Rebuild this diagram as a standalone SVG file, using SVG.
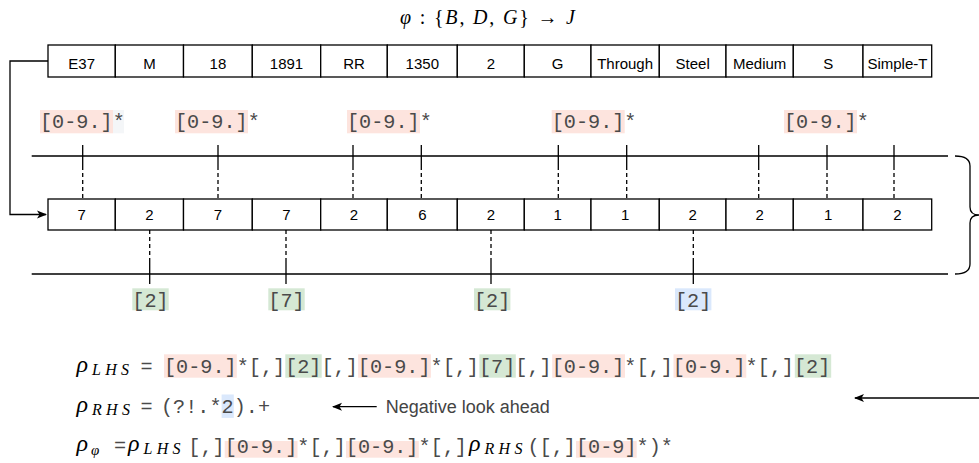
<svg xmlns="http://www.w3.org/2000/svg" width="979" height="463" viewBox="0 0 979 463">
<defs>
<style>
.cell{fill:#fff;stroke:#000;stroke-width:1.3}
.ct{font-family:"Liberation Sans",Arial,sans-serif;font-size:15px;fill:#000;text-anchor:middle}
.mono{font-family:"Liberation Mono","Courier New",monospace;font-size:20.2px;fill:#4a4a4a}
.math{font-family:"Liberation Serif","Times New Roman",serif;font-style:italic;fill:#000}
.up{font-style:normal}
.pink{fill:#fde4de}
.green{fill:#d5e8d4}
.blue{fill:#dae8fc}
.ln{stroke:#000;stroke-width:1.3;fill:none}
.dash{stroke:#000;stroke-width:1.3;stroke-dasharray:4 3;fill:none}
</style>
<marker id="ah" viewBox="0 0 10 10" refX="9" refY="5" markerWidth="10" markerHeight="10" orient="auto" markerUnits="userSpaceOnUse">
<path d="M0,1 L10,5 L0,9 L2.5,5 Z" fill="#000"/>
</marker>
</defs>
<rect width="979" height="463" fill="#fff"/>

<g id="title">
<text class="math" x="400" y="24" font-size="20" textLength="175" lengthAdjust="spacing">φ<tspan class="up"> : {</tspan>B<tspan class="up">, </tspan>D<tspan class="up">, </tspan>G<tspan class="up">} → </tspan>J</text>
</g>

<g id="connectors">
<path class="ln" d="M48,61 H10 V214.5 H46" marker-end="url(#ah)"/>
<path class="ln" d="M31.7,156 H948 M31.7,274 H948"/>
<path class="ln" d="M955,156 Q970,156 970,166 L970,207 Q970,215 979,215 Q970,215 970,223 L970,264 Q970,274 955,274"/>
<g id="top-ticks">
<path class="ln" d="M82.7,145 V166 M218,145 V166 M353,145 V166 M421.3,145 V166 M558.3,145 V166 M626.7,145 V166 M758.7,145 V166 M827,145 V166 M894,145 V166"/>
<path class="dash" d="M82.7,166 V199 M218,166 V199 M353,166 V199 M421.3,166 V199 M558.3,166 V199 M626.7,166 V199 M758.7,166 V199 M827,166 V199 M894,166 V199"/>
</g>
<g id="bottom-ticks">
<path class="dash" d="M149.7,230 V262 M286,230 V262 M491,230 V262 M693.3,230 V262"/>
<path class="ln" d="M149.7,262 V284 M286,262 V284 M491,262 V284 M693.3,262 V284"/>
</g>
<path class="ln" d="M376.7,406.7 H333" marker-end="url(#ah)"/>
<path class="ln" d="M979,398 H855" marker-end="url(#ah)"/>
</g>

<g id="top-row">
<rect class="cell" x="48" y="45" width="67.3" height="32"/><text class="ct" x="81.7" y="68.5">E37</text>
<rect class="cell" x="115.3" y="45" width="68.2" height="32"/><text class="ct" x="149.4" y="68.5">M</text>
<rect class="cell" x="183.5" y="45" width="68.8" height="32"/><text class="ct" x="217.9" y="68.5">18</text>
<rect class="cell" x="252.3" y="45" width="68.4" height="32"/><text class="ct" x="286.5" y="68.5">1891</text>
<rect class="cell" x="320.7" y="45" width="66.6" height="32"/><text class="ct" x="354" y="68.5">RR</text>
<rect class="cell" x="387.3" y="45" width="70" height="32"/><text class="ct" x="422.3" y="68.5">1350</text>
<rect class="cell" x="457.3" y="45" width="67" height="32"/><text class="ct" x="490.8" y="68.5">2</text>
<rect class="cell" x="524.3" y="45" width="66.7" height="32"/><text class="ct" x="557.7" y="68.5">G</text>
<rect class="cell" x="591" y="45" width="68.3" height="32"/><text class="ct" x="625.1" y="68.5">Through</text>
<rect class="cell" x="659.3" y="45" width="66.7" height="32"/><text class="ct" x="692.7" y="68.5">Steel</text>
<rect class="cell" x="726" y="45" width="67.3" height="32"/><text class="ct" x="759.7" y="68.5">Medium</text>
<rect class="cell" x="793.3" y="45" width="69.7" height="32"/><text class="ct" x="828.2" y="68.5">S</text>
<rect class="cell" x="863" y="45" width="68.7" height="32"/><text class="ct" x="897.4" y="68.5">Simple-T</text>
</g>

<g id="bottom-row">
<rect class="cell" x="48" y="199" width="67.3" height="31"/><text class="ct" x="81.7" y="220">7</text>
<rect class="cell" x="115.3" y="199" width="68.2" height="31"/><text class="ct" x="149.4" y="220">2</text>
<rect class="cell" x="183.5" y="199" width="68.8" height="31"/><text class="ct" x="217.9" y="220">7</text>
<rect class="cell" x="252.3" y="199" width="68.4" height="31"/><text class="ct" x="286.5" y="220">7</text>
<rect class="cell" x="320.7" y="199" width="66.6" height="31"/><text class="ct" x="354" y="220">2</text>
<rect class="cell" x="387.3" y="199" width="70" height="31"/><text class="ct" x="422.3" y="220">6</text>
<rect class="cell" x="457.3" y="199" width="67" height="31"/><text class="ct" x="490.8" y="220">2</text>
<rect class="cell" x="524.3" y="199" width="66.7" height="31"/><text class="ct" x="557.7" y="220">1</text>
<rect class="cell" x="591" y="199" width="68.3" height="31"/><text class="ct" x="625.1" y="220">1</text>
<rect class="cell" x="659.3" y="199" width="66.7" height="31"/><text class="ct" x="692.7" y="220">2</text>
<rect class="cell" x="726" y="199" width="67.3" height="31"/><text class="ct" x="759.7" y="220">2</text>
<rect class="cell" x="793.3" y="199" width="69.7" height="31"/><text class="ct" x="828.2" y="220">1</text>
<rect class="cell" x="863" y="199" width="68.7" height="31"/><text class="ct" x="897.4" y="220">2</text>
</g>

<g id="top-labels">
<rect class="pink" x="40" y="110" width="73" height="23.3"/><rect x="113" y="110" width="11" height="23.3" fill="#f4f6f8"/><text class="mono" x="40" y="128">[0-9.]*</text>
<rect class="pink" x="175" y="110" width="73" height="23.3"/><text class="mono" x="175" y="128">[0-9.]*</text>
<rect class="pink" x="347" y="110" width="73" height="23.3"/><text class="mono" x="347" y="128">[0-9.]*</text>
<rect class="pink" x="551.7" y="110" width="73" height="23.3"/><text class="mono" x="551.7" y="128">[0-9.]*</text>
<rect class="pink" x="784" y="110" width="73" height="23.3"/><text class="mono" x="784" y="128">[0-9.]*</text>
</g>

<g id="bottom-labels">
<rect class="green" x="132.3" y="288.3" width="36.4" height="22"/><text class="mono" x="132.3" y="306.5">[2]</text>
<rect class="green" x="268.3" y="288.3" width="36.4" height="22"/><text class="mono" x="268.3" y="306.5">[7]</text>
<rect class="green" x="474" y="288.3" width="36.4" height="22"/><text class="mono" x="474" y="306.5">[2]</text>
<rect class="blue" x="675" y="288.3" width="36.4" height="22"/><text class="mono" x="675" y="306.5">[2]</text>
</g>

<g id="rho-lhs">
<rect class="pink" x="164" y="354.3" width="72.8" height="23.4"/>
<rect class="green" x="285.3" y="354.3" width="36.4" height="23.4"/>
<rect class="pink" x="358.1" y="354.3" width="72.8" height="23.4"/>
<rect class="green" x="479.4" y="354.3" width="36.4" height="23.4"/>
<rect class="pink" x="552.2" y="354.3" width="72.8" height="23.4"/>
<rect class="pink" x="673.5" y="354.3" width="72.8" height="23.4"/>
<rect class="green" x="794.8" y="354.3" width="36.4" height="23.4"/>
<text class="math" x="76.5" y="372" font-size="24">ρ</text>
<text class="math" x="92" y="374.5" font-size="16" textLength="37" lengthAdjust="spacing">LHS</text>
<text class="mono" x="140.5" y="373.3">=</text>
<text class="mono" x="164" y="373.3">[0-9.]*[,][2][,][0-9.]*[,][7][,][0-9.]*[,][0-9.]*[,][2]</text>
</g>

<g id="rho-rhs">
<rect class="blue" x="221.6" y="394.5" width="12.2" height="23.4"/>
<text class="math" x="76.5" y="412" font-size="24">ρ</text>
<text class="math" x="92" y="414.5" font-size="16" textLength="38" lengthAdjust="spacing">RHS</text>
<text class="mono" x="140.5" y="413.3">=</text>
<text class="mono" x="161" y="413.3">(?!.*2).+</text>
<text x="385.7" y="413" font-family="'Liberation Sans',Arial,sans-serif" font-size="18" fill="#444">Negative look ahead</text>
</g>

<g id="rho-phi">
<rect class="pink" x="224.7" y="441" width="72.8" height="16.7"/>
<rect class="pink" x="346" y="441" width="72.8" height="16.7"/>
<rect class="pink" x="576" y="441" width="60.7" height="16.7"/>
<text class="math" x="76.5" y="451" font-size="24">ρ</text>
<text class="math" x="91" y="455" font-size="15">φ</text>
<text class="mono" x="114" y="452">=</text>
<text class="math" x="128" y="451" font-size="24">ρ</text>
<text class="math" x="143.5" y="453.5" font-size="16" textLength="37" lengthAdjust="spacing">LHS</text>
<text class="mono" x="188.3" y="453.3">[,][0-9.]*[,][0-9.]*[,]</text>
<text class="math" x="469" y="451" font-size="24">ρ</text>
<text class="math" x="484.5" y="453.5" font-size="16" textLength="38" lengthAdjust="spacing">RHS</text>
<text class="mono" x="527.5" y="453.3">([,][0-9]*)*</text>
</g>
</svg>
